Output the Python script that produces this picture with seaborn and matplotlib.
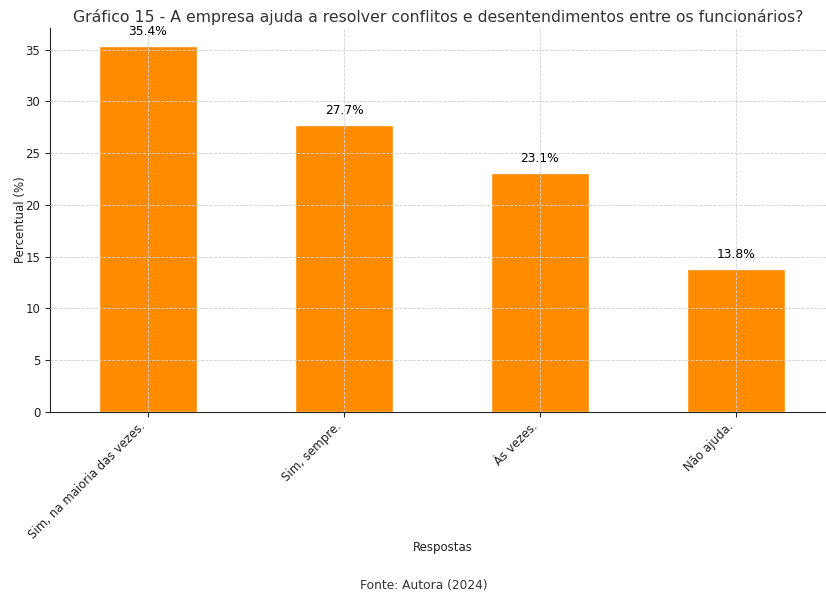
import matplotlib.pyplot as plt
import seaborn as sns
import pandas as pd

respostas = ["Sim, na maioria das vezes.", "Sim, sempre.", "Às vezes.", "Não ajuda."]
percentuais = [35.4, 27.7, 23.1, 13.8]

df = pd.DataFrame({"Respostas": respostas, "Percentual": percentuais})

sns.set_style("ticks")
plt.rcParams["font.family"] = ["DejaVu Sans"]

fig = plt.figure(figsize=(8.26, 5.94), dpi=100)
ax = fig.add_axes([50 / 826, 1 - 412 / 594, 776 / 826, 384 / 594])

sns.barplot(data=df, x="Respostas", y="Percentual", color="darkorange",
            saturation=1, width=0.5, ax=ax)

for i, v in enumerate(percentuais):
    ax.text(i, v + 1.4, f"{v}%", ha="center", va="center", fontsize=8.8, color="black")

ax.set_xlim(-0.5, 3.46)
ax.set_ylim(0, 37.1)
ax.set_axisbelow(False)
ax.grid(True, linestyle="--", color="#cfcfcf", linewidth=0.6)
sns.despine(ax=ax)
ax.set_title("Gráfico 15 - A empresa ajuda a resolver conflitos e desentendimentos entre os funcionários?",
             fontsize=11.3, color="#333333", pad=4)
ax.set_xlabel("Respostas", fontsize=8.5, color="#222222")
ax.set_ylabel("Percentual (%)", fontsize=8.5, color="#222222")
ax.xaxis.set_label_coords(0.506, -0.335)
ax.yaxis.set_label_coords(-0.03, 0.5)
plt.setp(ax.get_xticklabels(), rotation=45, ha="right", fontsize=8.5, color="#222222")
ax.tick_params(axis="x", pad=2)
ax.tick_params(axis="y", labelsize=8.5, labelcolor="#222222")
fig.text(0.513, 1 - 586 / 594, "Fonte: Autora (2024)", ha="center", va="center",
         fontsize=8.8, color="#333333")

fig.savefig("out.png", dpi=100)
